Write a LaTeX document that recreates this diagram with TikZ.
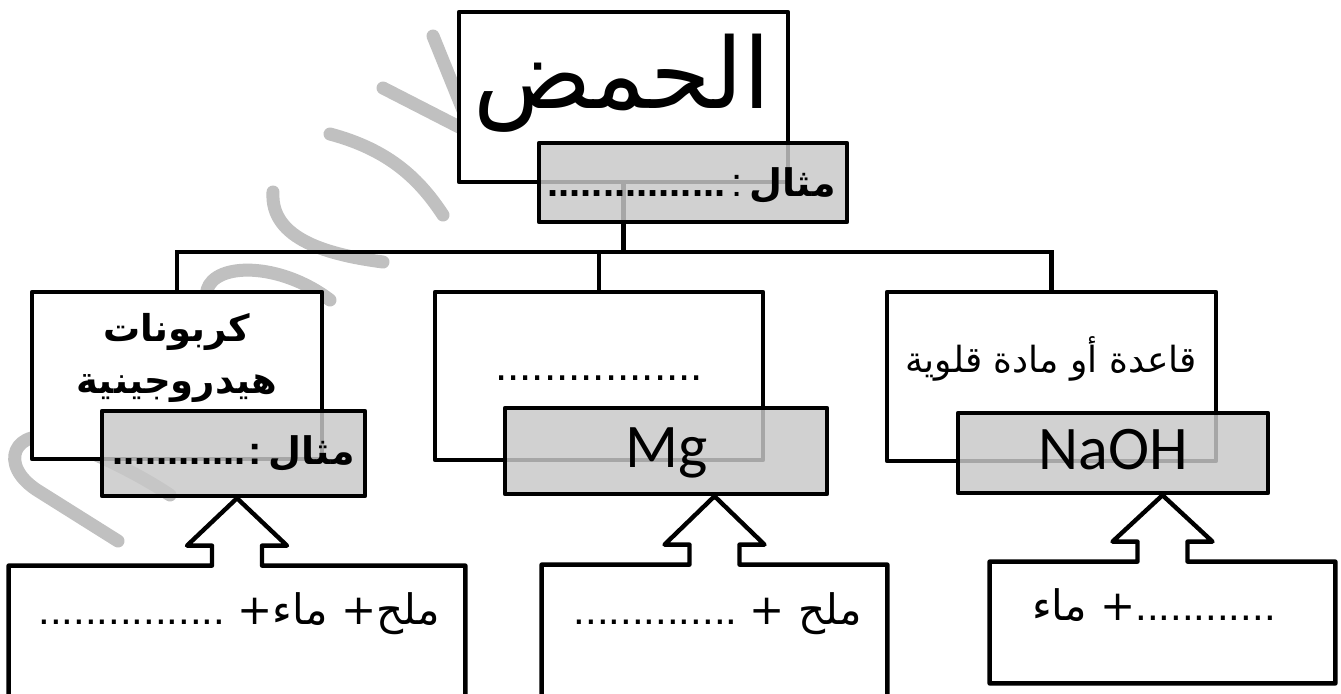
\documentclass[tikz,border=0pt]{standalone}
\usepackage{fontspec}
\TeXXeTstate=1
\newfontfamily\ar[Script=Arabic]{DejaVu Sans}
\newfontfamily\lat{Liberation Sans}
\newfontfamily\carl{Carlito}
\definecolor{greyfill}{RGB}{200,200,200}
\definecolor{wmark}{RGB}{192,192,192}
\begin{document}
\begin{tikzpicture}[x=0.5pt,y=-0.5pt,
  wbox/.style={draw=black,fill=white,line width=2.2pt,rectangle,inner sep=0pt,line join=round},
  gbox/.style={draw=black,fill=greyfill,fill opacity=0.83,draw opacity=1,text opacity=1,line width=2.2pt,rectangle,inner sep=0pt,line join=round},
  conn/.style={line width=2.2pt},
  lbl/.style={inner sep=0pt,outer sep=0pt},
  wm/.style={draw=wmark,line width=6.5pt,line cap=round,line join=round}]
\useasboundingbox (0,0) rectangle (1341,693);
\fill[white] (0,0) rectangle (1341,693);
% watermark
\draw[wm] (433,36) -- (465,115);
\draw[wm] (383,88) -- (465,130);
\draw[wm] (330,134) .. controls (390,150) and (420,180) .. (443,215);
\draw[wm] (273,192) .. controls (270,240) and (330,255) .. (383,262);
\draw[wm] (207,290) .. controls (215,262) and (280,262) .. (330,300);
\draw[wm] (118,541) -- (40,492) .. controls (-5,465) and (15,425) .. (60,440) .. controls (100,455) and (140,475) .. (170,495);
% top box
\node[wbox,minimum width=164.5pt,minimum height=85pt] (top) at (623.5,97) {};
\node[lbl,anchor=base,font=\ar\fontsize{49}{54}\selectfont] (toptxt) at (622,108) {\beginR الحمض\endR};
% middle boxes
\node[wbox,minimum width=145pt,minimum height=83.5pt] (m1) at (177,375.5) {};
\node[wbox,minimum width=164pt,minimum height=84pt] (m2) at (599,376) {};
\node[wbox,minimum width=164.5pt,minimum height=84.5pt] (m3) at (1051.5,376.5) {};
% connectors
\path (top.south) ++(0,68) coordinate (hub);
\draw[conn] (top.south) -- (hub);
\draw[conn] (m1.north) |- (hub) -| (m3.north);
\draw[conn] (m2.north) -- (m2.north |- hub);
% middle texts
\node[lbl,align=center,font=\ar\bfseries\fontsize{18.5}{26}\selectfont] (m1txt) at (177,358) {\beginR كربونات\endR\\\beginR هيدروجينية\endR};
\node[lbl,anchor=base,font=\lat\fontsize{22}{24}\selectfont] (m2txt) at (599,380) {.................};
\node[lbl,anchor=base,font=\ar\fontsize{18}{22}\selectfont] (m3txt) at (1051,372) {\beginR قاعدة أو مادة قلوية\endR};
% grey boxes
\node[gbox,minimum width=154pt,minimum height=39.5pt] (tg) at (693,182.5) {};
\node[lbl,anchor=base east] (tgtxt) at (836,196) {{\lat\bfseries\fontsize{20}{24}\selectfont ................}\ {\lat\fontsize{20}{24}\selectfont :}\ {\ar\bfseries\fontsize{19}{24}\selectfont\beginR مثال\endR}};
\node[gbox,minimum width=131.5pt,minimum height=42.5pt] (g1) at (233.5,453.5) {};
\node[lbl,anchor=base east] (g1txt) at (355,464) {{\lat\bfseries\fontsize{20}{24}\selectfont ............}\,{\lat\bfseries\fontsize{20}{24}\selectfont :}\ {\ar\bfseries\fontsize{19}{24}\selectfont\beginR مثال\endR}};
\node[gbox,minimum width=161pt,minimum height=43pt] (g2) at (666,451) {};
\node[lbl,anchor=base,font=\carl\fontsize{31}{34}\selectfont] (g2txt) at (667,467) {Mg};
\node[gbox,minimum width=155pt,minimum height=40pt] (g3) at (1113,453) {};
\node[lbl,anchor=base,font=\carl\fontsize{31}{34}\selectfont] (g3txt) at (1113,469) {NaOH};
% bottom boxes with block arrows
\node[minimum width=228pt,minimum height=77pt,inner sep=0pt] (bl) at (237,643) {};
\node[minimum width=172.5pt,minimum height=77.5pt,inner sep=0pt] (bm) at (714.5,642.5) {};
\node[minimum width=172.5pt,minimum height=60.5pt,inner sep=0pt] (br) at (1162.5,622.5) {};
\foreach \b/\g in {bl/g1,bm/g2,br/g3}{
  \draw[line width=2.2pt,line join=round,fill=white]
    (\b.north west) -- ([xshift=-12.5pt]\b.north) -- ([xshift=-12.5pt,yshift=10pt]\b.north)
    -- ([xshift=-25pt,yshift=10pt]\b.north) -- (\b.north |- \g.south)
    -- ([xshift=25pt,yshift=10pt]\b.north) -- ([xshift=12.5pt,yshift=10pt]\b.north)
    -- ([xshift=12.5pt]\b.north) -- (\b.north east) -- (\b.south east) -- (\b.south west) -- cycle;
}
\node[lbl,anchor=base east,font=\fontsize{21}{24}\selectfont] (bltxt) at (440,624) {{\lat ................}\ {\ar +\beginR ماء\endR\ +\beginR ملح\endR}};
\node[lbl,anchor=base east,font=\fontsize{21}{24}\selectfont] (bmtxt) at (862,624) {{\lat ..............}\ {\ar +\ \beginR ملح\endR}};
\node[lbl,anchor=base west,font=\fontsize{21}{24}\selectfont] (brtxt) at (1032,620) {{\ar\beginR ماء\endR\ +}{\lat ............}};
\end{tikzpicture}
\end{document}
